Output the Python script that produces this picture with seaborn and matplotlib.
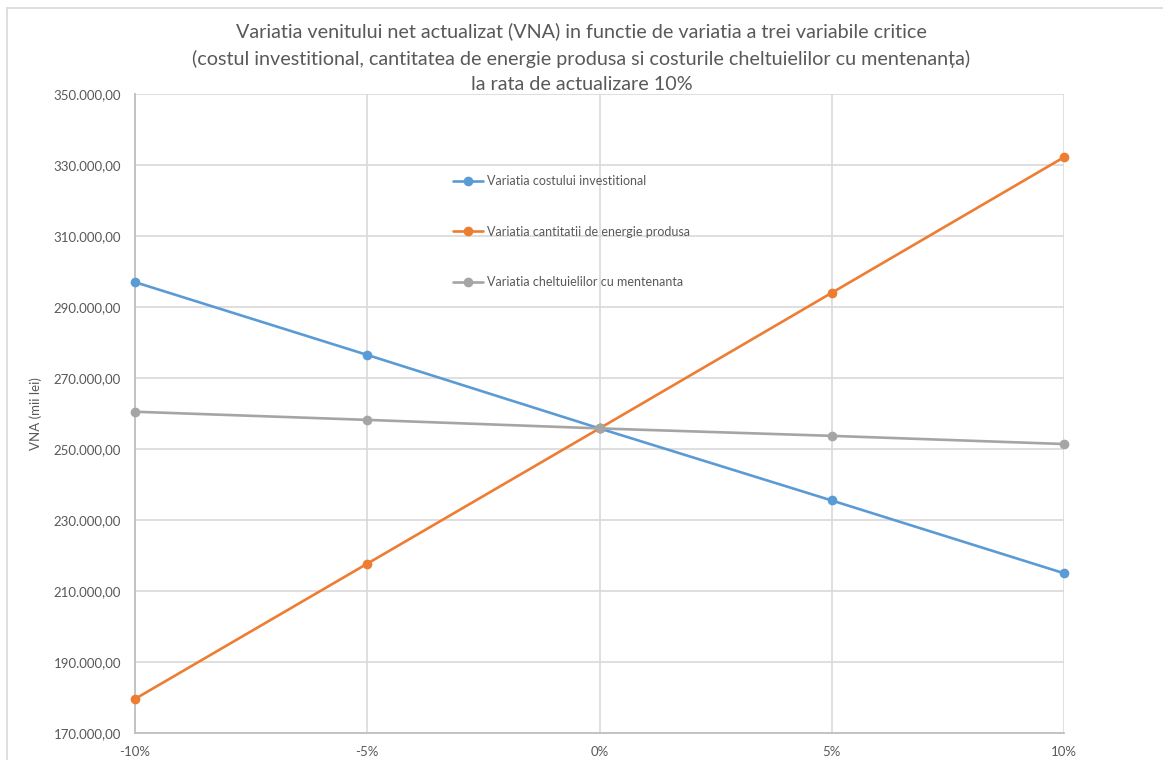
import matplotlib
matplotlib.use("Agg")
import matplotlib.pyplot as plt
import matplotlib.ticker as mticker
from matplotlib.lines import Line2D
import seaborn as sns
import pandas as pd

# Sensitivity of the net present value to each critical variable
variatii = [-10, -5, 0, 5, 10]
costul_investitional = [297000, 276500, 255800, 235500, 215000]
cantitatea_energie = [179600, 217700, 255800, 294000, 332200]
cheltuieli_mentenanta = [260500, 258200, 255800, 253700, 251400]
valori_y = list(range(170000, 350001, 20000))

serii = [
    "Variatia costului investitional",
    "Variatia cantitatii de energie produsa",
    "Variatia cheltuielilor cu mentenanta",
]
culori = ["#5B9BD5", "#ED7D31", "#A5A5A5"]

df = pd.DataFrame({
    "variatie": variatii * 3,
    "VNA": costul_investitional + cantitatea_energie + cheltuieli_mentenanta,
    "serie": [serii[0]] * 5 + [serii[1]] * 5 + [serii[2]] * 5,
})

sns.set_theme(style="white")
plt.rcParams["font.family"] = ["Lato", "DejaVu Sans"]

fig = plt.figure(figsize=(11.63, 7.60), dpi=100)
ax = fig.add_axes([135 / 1163, 1 - 733 / 760, (1064 - 135) / 1163, (733 - 94) / 760])

sns.lineplot(
    data=df, x="variatie", y="VNA", hue="serie", hue_order=serii,
    palette=culori, marker="o", markersize=7, markeredgewidth=0,
    linewidth=1.9, ax=ax, legend=False, zorder=3,
)
for ln in ax.lines:
    ln.set_clip_on(False)

ax.set_xlim(-10, 10)
ax.set_ylim(valori_y[0], valori_y[-1])
ax.set_xticks(variatii)
ax.set_yticks(valori_y)
ax.xaxis.set_major_formatter(mticker.FuncFormatter(lambda v, p: f"{int(v)}%"))


def format_lei(v, pos):
    s = f"{v:,.2f}"
    return s.replace(",", "X").replace(".", ",").replace("X", ".")


ax.yaxis.set_major_formatter(mticker.FuncFormatter(format_lei))

ax.grid(True, color="#D9D9D9", linewidth=1.2)
ax.set_axisbelow(True)
for side in ["top", "right"]:
    ax.spines[side].set_visible(False)
for side in ["left", "bottom"]:
    ax.spines[side].set_color("#BFBFBF")
    ax.spines[side].set_linewidth(1.3)

ax.tick_params(axis="both", length=0, labelsize=9.5, colors="#595959")
ax.tick_params(axis="y", pad=10)
ax.tick_params(axis="x", pad=9)

ax.set_xlabel("")
ax.set_ylabel("VNA (mii lei)", fontsize=9.5, color="#595959", labelpad=8)

titlu = [
    (31, "Variatia venitului net actualizat (VNA) in functie de variatia a trei variabile critice"),
    (59, "(costul investitional, cantitatea de energie produsa si costurile cheltuielilor cu mentenanța)"),
    (85, "la rata de actualizare 10%"),
]
for y_px, txt in titlu:
    fig.text(0.5, 1 - y_px / 760, txt, ha="center", va="center",
             fontsize=14.2, color="#595959")

handles = [
    Line2D([], [], color=c, marker="o", markersize=7, markeredgewidth=0, linewidth=1.9)
    for c in culori
]
fig.legend(
    handles, serii, loc="upper left",
    bbox_to_anchor=(453 / 1163, 1 - 175 / 760),
    frameon=False, fontsize=9, labelcolor="#595959",
    handlelength=2.4, handletextpad=0.3, labelspacing=3.1,
    borderpad=0, borderaxespad=0,
)

# outer chart frame (top and left edges)
fig.add_artist(Line2D([7 / 1163, 1], [1 - 8 / 760, 1 - 8 / 760], color="#D9D9D9", linewidth=1.2))
fig.add_artist(Line2D([7 / 1163, 7 / 1163], [0, 1 - 8 / 760], color="#D9D9D9", linewidth=1.2))

fig.savefig("out.png", dpi=100)
